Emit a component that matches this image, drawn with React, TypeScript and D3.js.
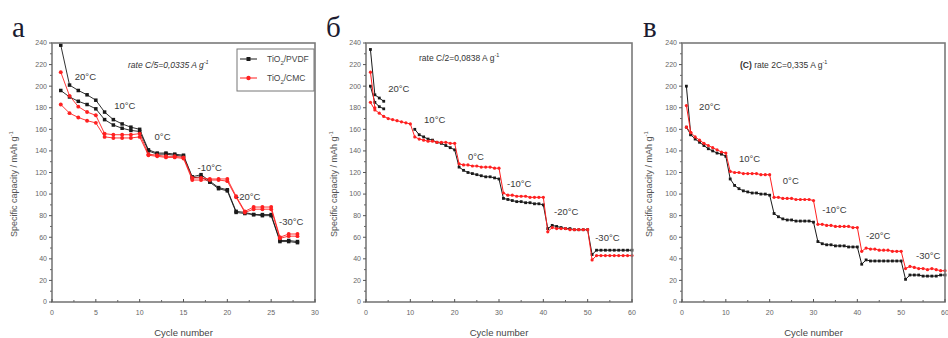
import React from "react";
import * as d3 from "d3";

// ---------- data ----------
const cyclesA = d3.range(1, 29);
const cyclesB = d3.range(1, 61);

// panel а (rate C/5)
const pvdfA = [238, 201, 196, 192, 187, 176, 169, 165, 162, 160, 141, 138, 138, 137, 136, 116, 118, 112, 106, 104, 84, 83, 81, 81, 81, 57, 57, 56];
const pvdfA2 = [196, 190, 186, 183, 179, 169, 164, 161, 159, 158, 140, 137, 137, 136, 135, 115, 116, 111, 105, 103, 83, 82, 81, 80, 80, 56, 56, 55];
const cmcA = [213, 191, 181, 176, 173, 156, 155, 155, 155, 156, 137, 136, 135, 135, 134, 115, 115, 114, 114, 114, 98, 84, 88, 88, 88, 60, 63, 63];
const cmcA2 = [183, 175, 171, 168, 166, 153, 152, 152, 152, 153, 136, 135, 134, 134, 133, 113, 113, 113, 113, 112, 97, 83, 86, 86, 86, 59, 61, 61];

// panel б (rate C/2)
const pvdfB: (number | null)[] = [200, 185, 181, 179, null, null, null, null, null, null,
  160, 155, 153, 151, 150, 148, 147, 145, 143, 141,
  125, 122, 120, 119, 118, 117, 116, 116, 115, 114,
  96, 95, 94, 93, 93, 92, 92, 91, 91, 90,
  68, 71, 70, 69, 68, 68, 67, 67, 67, 67,
  44, 48, 48, 48, 48, 48, 48, 48, 48, 48];
const pvdfB2 = [234, 192, 189, 186];
const cmcB = [185, 178, 175, 172, 170, 169, 168, 167, 166, 165,
  153, 151, 150, 149, 149, 148, 148, 148, 147, 147,
  128, 127, 127, 126, 126, 125, 125, 125, 124, 124,
  101, 99, 99, 98, 98, 98, 97, 97, 97, 97,
  65, 69, 68, 68, 68, 67, 67, 67, 67, 67,
  39, 43, 43, 43, 43, 43, 43, 43, 43, 43];
const cmcB2 = [213, 180];

// panel в (rate 2C)
const pvdfC = [162, 155, 151, 148, 145, 142, 140, 138, 137, 135,
  114, 108, 105, 103, 102, 101, 101, 100, 100, 99,
  82, 79, 77, 76, 76, 75, 75, 75, 75, 74,
  56, 54, 53, 53, 52, 52, 52, 51, 51, 51,
  35, 39, 38, 38, 38, 38, 38, 38, 38, 38,
  21, 25, 25, 25, 24, 24, 24, 24, 25, 25];
const pvdfC2 = [200, 155];
const cmcC = [162, 157, 153, 150, 147, 145, 143, 141, 139, 138,
  121, 120, 120, 119, 119, 119, 119, 118, 118, 118,
  97, 97, 96, 96, 96, 95, 95, 95, 95, 94,
  72, 72, 71, 71, 70, 70, 70, 70, 69, 69,
  47, 50, 49, 49, 48, 48, 48, 47, 47, 47,
  31, 33, 32, 31, 31, 30, 31, 30, 29, 29];
const cmcC2 = [182, 157];

const tempLabels = ["20°C", "10°C", "0°C", "-10°C", "-20°C", "-30°C"];
const panelLetters = ["а", "б", "в"];
const legendNames = ["TiO", "TiO"];
const legendSuffix = ["/PVDF", "/CMC"];

// ---------- layout ----------
const BLACK = "#1a1a1a";
const RED = "#ff2020";
const Y0 = 302;
const Y1 = 43;

type Series = { values: (number | null)[]; color: string; marker: "square" | "circle" };
type PanelCfg = {
  left: number; right: number; xMax: number; xStep: number; xMinor: number;
  cycles: number[]; series: Series[]; msize: number; sw: number;
  labelPos: [number, number][];
  letterX: number; ylabX: number;
  rate: { x: number; y: number; prefix?: string; text: string; italic: boolean };
  legend?: boolean;
};

const panels: PanelCfg[] = [
  {
    left: 52, right: 315, xMax: 30, xStep: 5, xMinor: 2.5, cycles: cyclesA, msize: 3.5, sw: 0.9,
    series: [
      { values: pvdfA, color: BLACK, marker: "square" },
      { values: pvdfA2, color: BLACK, marker: "square" },
      { values: cmcA, color: RED, marker: "circle" },
      { values: cmcA2, color: RED, marker: "circle" },
    ],
    labelPos: [[2.6, 209], [7.1, 182], [11.7, 153], [16.6, 125], [21, 98], [25.9, 75]],
    letterX: 12, ylabX: 17,
    rate: { x: 128, y: 68, text: "rate C/5=0,0335 A g", italic: true },
    legend: true,
  },
  {
    left: 366, right: 632, xMax: 60, xStep: 10, xMinor: 5, cycles: cyclesB, msize: 2.8, sw: 1,
    series: [
      { values: pvdfB2, color: BLACK, marker: "square" },
      { values: pvdfB, color: BLACK, marker: "square" },
      { values: cmcB2, color: RED, marker: "circle" },
      { values: cmcB, color: RED, marker: "circle" },
    ],
    labelPos: [[5, 198], [13.1, 169], [23, 135], [31.8, 110], [42.4, 84], [51.7, 60]],
    letterX: 326, ylabX: 337,
    rate: { x: 419, y: 61, text: "rate C/2=0,0838 A g", italic: false },
  },
  {
    left: 682, right: 945, xMax: 60, xStep: 10, xMinor: 5, cycles: cyclesB, msize: 2.8, sw: 1,
    series: [
      { values: pvdfC2, color: BLACK, marker: "square" },
      { values: pvdfC, color: BLACK, marker: "square" },
      { values: cmcC2, color: RED, marker: "circle" },
      { values: cmcC, color: RED, marker: "circle" },
    ],
    labelPos: [[3.9, 181], [13, 133], [23, 113], [32, 86], [42, 62], [53.4, 43]],
    letterX: 643, ylabX: 652,
    rate: { x: 740, y: 68, prefix: "(C)", text: " rate 2C=0,335 A g", italic: false },
  },
];

const FONT = "'Liberation Sans', Arial, sans-serif";

function Marker({ cx, cy, kind, size, color }: { cx: number; cy: number; kind: string; size: number; color: string }) {
  if (kind === "square")
    return <rect x={cx - size / 2} y={cy - size / 2} width={size} height={size} fill={color} />;
  return <circle cx={cx} cy={cy} r={size / 2 + 0.2} fill={color} />;
}

function Panel({ p, idx }: { p: PanelCfg; idx: number }) {
  const x = d3.scaleLinear().domain([0, p.xMax]).range([p.left, p.right]);
  const y = d3.scaleLinear().domain([0, 240]).range([Y0, Y1]);
  const yMajor = d3.range(0, 241, 20);
  const yMinor = d3.range(10, 240, 20);
  const xMajor = d3.range(0, p.xMax + 0.01, p.xStep);
  const xMinor = d3.range(p.xMinor, p.xMax, p.xStep);
  const line = d3
    .line<number | null>()
    .defined((d) => d != null)
    .x((_, i) => x(p.cycles[i]))
    .y((d) => y(d as number));
  const midY = 184;

  return (
    <g>
      <text x={p.letterX} y={37} fontFamily="'Liberation Serif', 'Times New Roman', serif" fontSize={29} fill="#1b1b30">
        {panelLetters[idx]}
      </text>
      {/* series */}
      {p.series.map((s, si) => (
        <g key={si}>
          <path d={line(s.values) || ""} fill="none" stroke={s.color} strokeWidth={p.sw} />
          {s.values.map((v, i) =>
            v == null ? null : (
              <Marker key={i} cx={x(p.cycles[i])} cy={y(v)} kind={s.marker} size={p.msize} color={s.color} />
            )
          )}
        </g>
      ))}
      {/* frame */}
      <rect x={p.left} y={Y1} width={p.right - p.left} height={Y0 - Y1} fill="none" stroke="#7a7a7a" strokeWidth={1.6} />
      {/* y ticks */}
      {yMajor.map((t) => (
        <g key={"y" + t}>
          <line x1={p.left - 3} x2={p.left} y1={y(t)} y2={y(t)} stroke="#555" strokeWidth={1} />
          <text x={p.left - 5} y={y(t) + 2.4} textAnchor="end" fontFamily={FONT} fontSize={7} fill="#666">
            {t}
          </text>
        </g>
      ))}
      {yMinor.map((t) => (
        <line key={"ym" + t} x1={p.left - 2} x2={p.left} y1={y(t)} y2={y(t)} stroke="#666" strokeWidth={1} />
      ))}
      {/* x ticks */}
      {xMajor.map((t) => (
        <g key={"x" + t}>
          <line x1={x(t)} x2={x(t)} y1={Y0} y2={Y0 - 3} stroke="#555" strokeWidth={1} />
          <text x={x(t)} y={315} textAnchor="middle" fontFamily={FONT} fontSize={7} fill="#666">
            {t}
          </text>
        </g>
      ))}
      {xMinor.map((t) => (
        <line key={"xm" + t} x1={x(t)} x2={x(t)} y1={Y0} y2={Y0 - 2} stroke="#666" strokeWidth={1} />
      ))}
      {/* axis titles */}
      <text x={(p.left + p.right) / 2} y={336} textAnchor="middle" fontFamily={FONT} fontSize={9.5} fill="#444">
        Cycle number
      </text>
      <text
        transform={`translate(${p.ylabX},${midY}) rotate(-90)`}
        textAnchor="middle"
        fontFamily={FONT}
        fontSize={9}
        fill="#555"
      >
        Specific capacity / mAh g<tspan dy={-4} fontSize={6}>-1</tspan>
      </text>
      {/* rate annotation */}
      <text x={p.rate.x} y={p.rate.y} fontFamily={FONT} fontSize={8.5} fill="#333" fontStyle={p.rate.italic ? "italic" : "normal"}>
        {p.rate.prefix ? <tspan fontWeight="bold">{p.rate.prefix}</tspan> : null}
        {p.rate.text}
        <tspan dy={-4} fontSize={5.5}>-1</tspan>
      </text>
      {/* temperature labels */}
      {p.labelPos.map(([cx, cv], i) => (
        <text key={"t" + i} x={x(cx)} y={y(cv) + 3.5} fontFamily={FONT} fontSize={9.5} fill="#3a3a3a">
          {tempLabels[i]}
        </text>
      ))}
      {/* legend */}
      {p.legend ? (
        <g>
          <rect x={237} y={49} width={77} height={42} fill="#fff" stroke="#777" strokeWidth={1} />
          {[BLACK, RED].map((c, i) => (
            <g key={"l" + i}>
              <line x1={240} x2={257} y1={59 + i * 19} y2={59 + i * 19} stroke={c} strokeWidth={1} />
              <Marker cx={248.5} cy={59 + i * 19} kind={i === 0 ? "square" : "circle"} size={4} color={c} />
              <text x={267} y={62 + i * 19} fontFamily={FONT} fontSize={8.5} fill="#444">
                {legendNames[i]}
                <tspan dy={2.5} fontSize={6}>2</tspan>
                <tspan dy={-2.5}>{legendSuffix[i]}</tspan>
              </text>
            </g>
          ))}
        </g>
      ) : null}
    </g>
  );
}

export default function App() {
  return (
    <svg width={948} height={338} style={{ position: "absolute", left: 0, top: 0, background: "#fff" }}>
      <rect width={948} height={338} fill="#fff" />
      {panels.map((p, i) => (
        <Panel key={i} p={p} idx={i} />
      ))}
    </svg>
  );
}
